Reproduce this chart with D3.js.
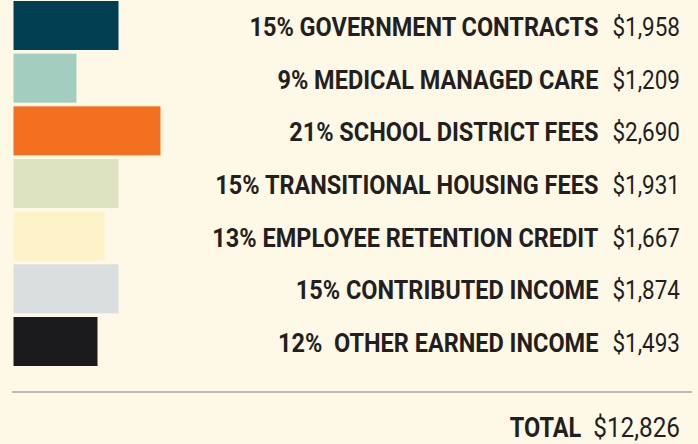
<!DOCTYPE html>
<html>
<head>
<meta charset="utf-8">
<script src="https://cdn.jsdelivr.net/npm/d3@7"></script>
<style>
  html, body { margin: 0; padding: 0; background: #fef8e7; }
  svg { display: block; }
  text { font-family: Roboto, "Noto Sans", sans-serif; fill: #231f20; white-space: pre; }
</style>
</head>
<body>
<svg id="chart" width="698" height="444"></svg>
<script>
const categories = ["GOVERNMENT CONTRACTS", "MEDICAL MANAGED CARE", "SCHOOL DISTRICT FEES",
  "TRANSITIONAL HOUSING FEES", "EMPLOYEE RETENTION CREDIT", "CONTRIBUTED INCOME", " OTHER EARNED INCOME"]
const percents = [15, 9, 21, 15, 13, 15, 12]
const amounts = [1958, 1209, 2690, 1931, 1667, 1874, 1493]
const total = 12826
const colors = ["#023f52", "#a2cdbf", "#f47021", "#dde2c1", "#fef2c8", "#d9dfdf", "#1b1a1c"]

const width = 698, height = 444
// no condensed face installed, so narrow Roboto a bit
const valueSqueeze = 0.9
const labelSqueeze = 0.94
const fontSize = 25
const valueRight = 680

const svg = d3.select("#chart")

const y = d3.scaleBand()
    .domain(categories)
    .range([1, 366])
    .paddingInner(0.0697)

const x = d3.scaleLinear()
    .domain([0, 21])
    .range([13.5, 160.5])

const fmt = d3.format(",")

const rows = svg.selectAll("g.row")
    .data(categories)
    .join("g")
    .attr("class", "row")

rows.append("rect")
    .attr("x", x(0))
    .attr("y", d => y(d))
    .attr("width", (d, i) => x(percents[i]) - x(0))
    .attr("height", y.bandwidth())
    .attr("fill", (d, i) => colors[i])

// values, right aligned
const values = rows.append("text")
    .attr("transform", d => `translate(${valueRight},${y(d) + y.bandwidth() / 2 + 10.5}) scale(${valueSqueeze},1)`)
    .attr("text-anchor", "end")
    .style("font-size", fontSize + "px")
    .text((d, i) => "$" + fmt(amounts[i]))

rows.append("text")
    .attr("transform", function (d, i) {
        const w = values.nodes()[i].getComputedTextLength() * valueSqueeze
        return `translate(${valueRight - w - 14},${y(d) + y.bandwidth() / 2 + 10.5}) scale(${labelSqueeze},1)`
    })
    .attr("text-anchor", "end")
    .style("font-size", fontSize + "px")
    .style("font-weight", "bold")
    .text((d, i) => percents[i] + "% " + d)

svg.append("line")
    .attr("x1", 12)
    .attr("x2", 692)
    .attr("y1", 392)
    .attr("y2", 392)
    .attr("stroke", "#a9a9a9")
    .attr("stroke-width", 1.5)

const totalValue = svg.append("text")
    .attr("transform", `translate(${valueRight},437) scale(${valueSqueeze},1)`)
    .attr("text-anchor", "end")
    .style("font-size", "27px")
    .text("$" + fmt(total))

const tw = totalValue.node().getComputedTextLength() * valueSqueeze
svg.append("text")
    .attr("transform", `translate(${valueRight - tw - 12},437) scale(0.87,1)`)
    .attr("text-anchor", "end")
    .style("font-size", "27px")
    .style("font-weight", "bold")
    .text("TOTAL")
</script>
</body>
</html>
